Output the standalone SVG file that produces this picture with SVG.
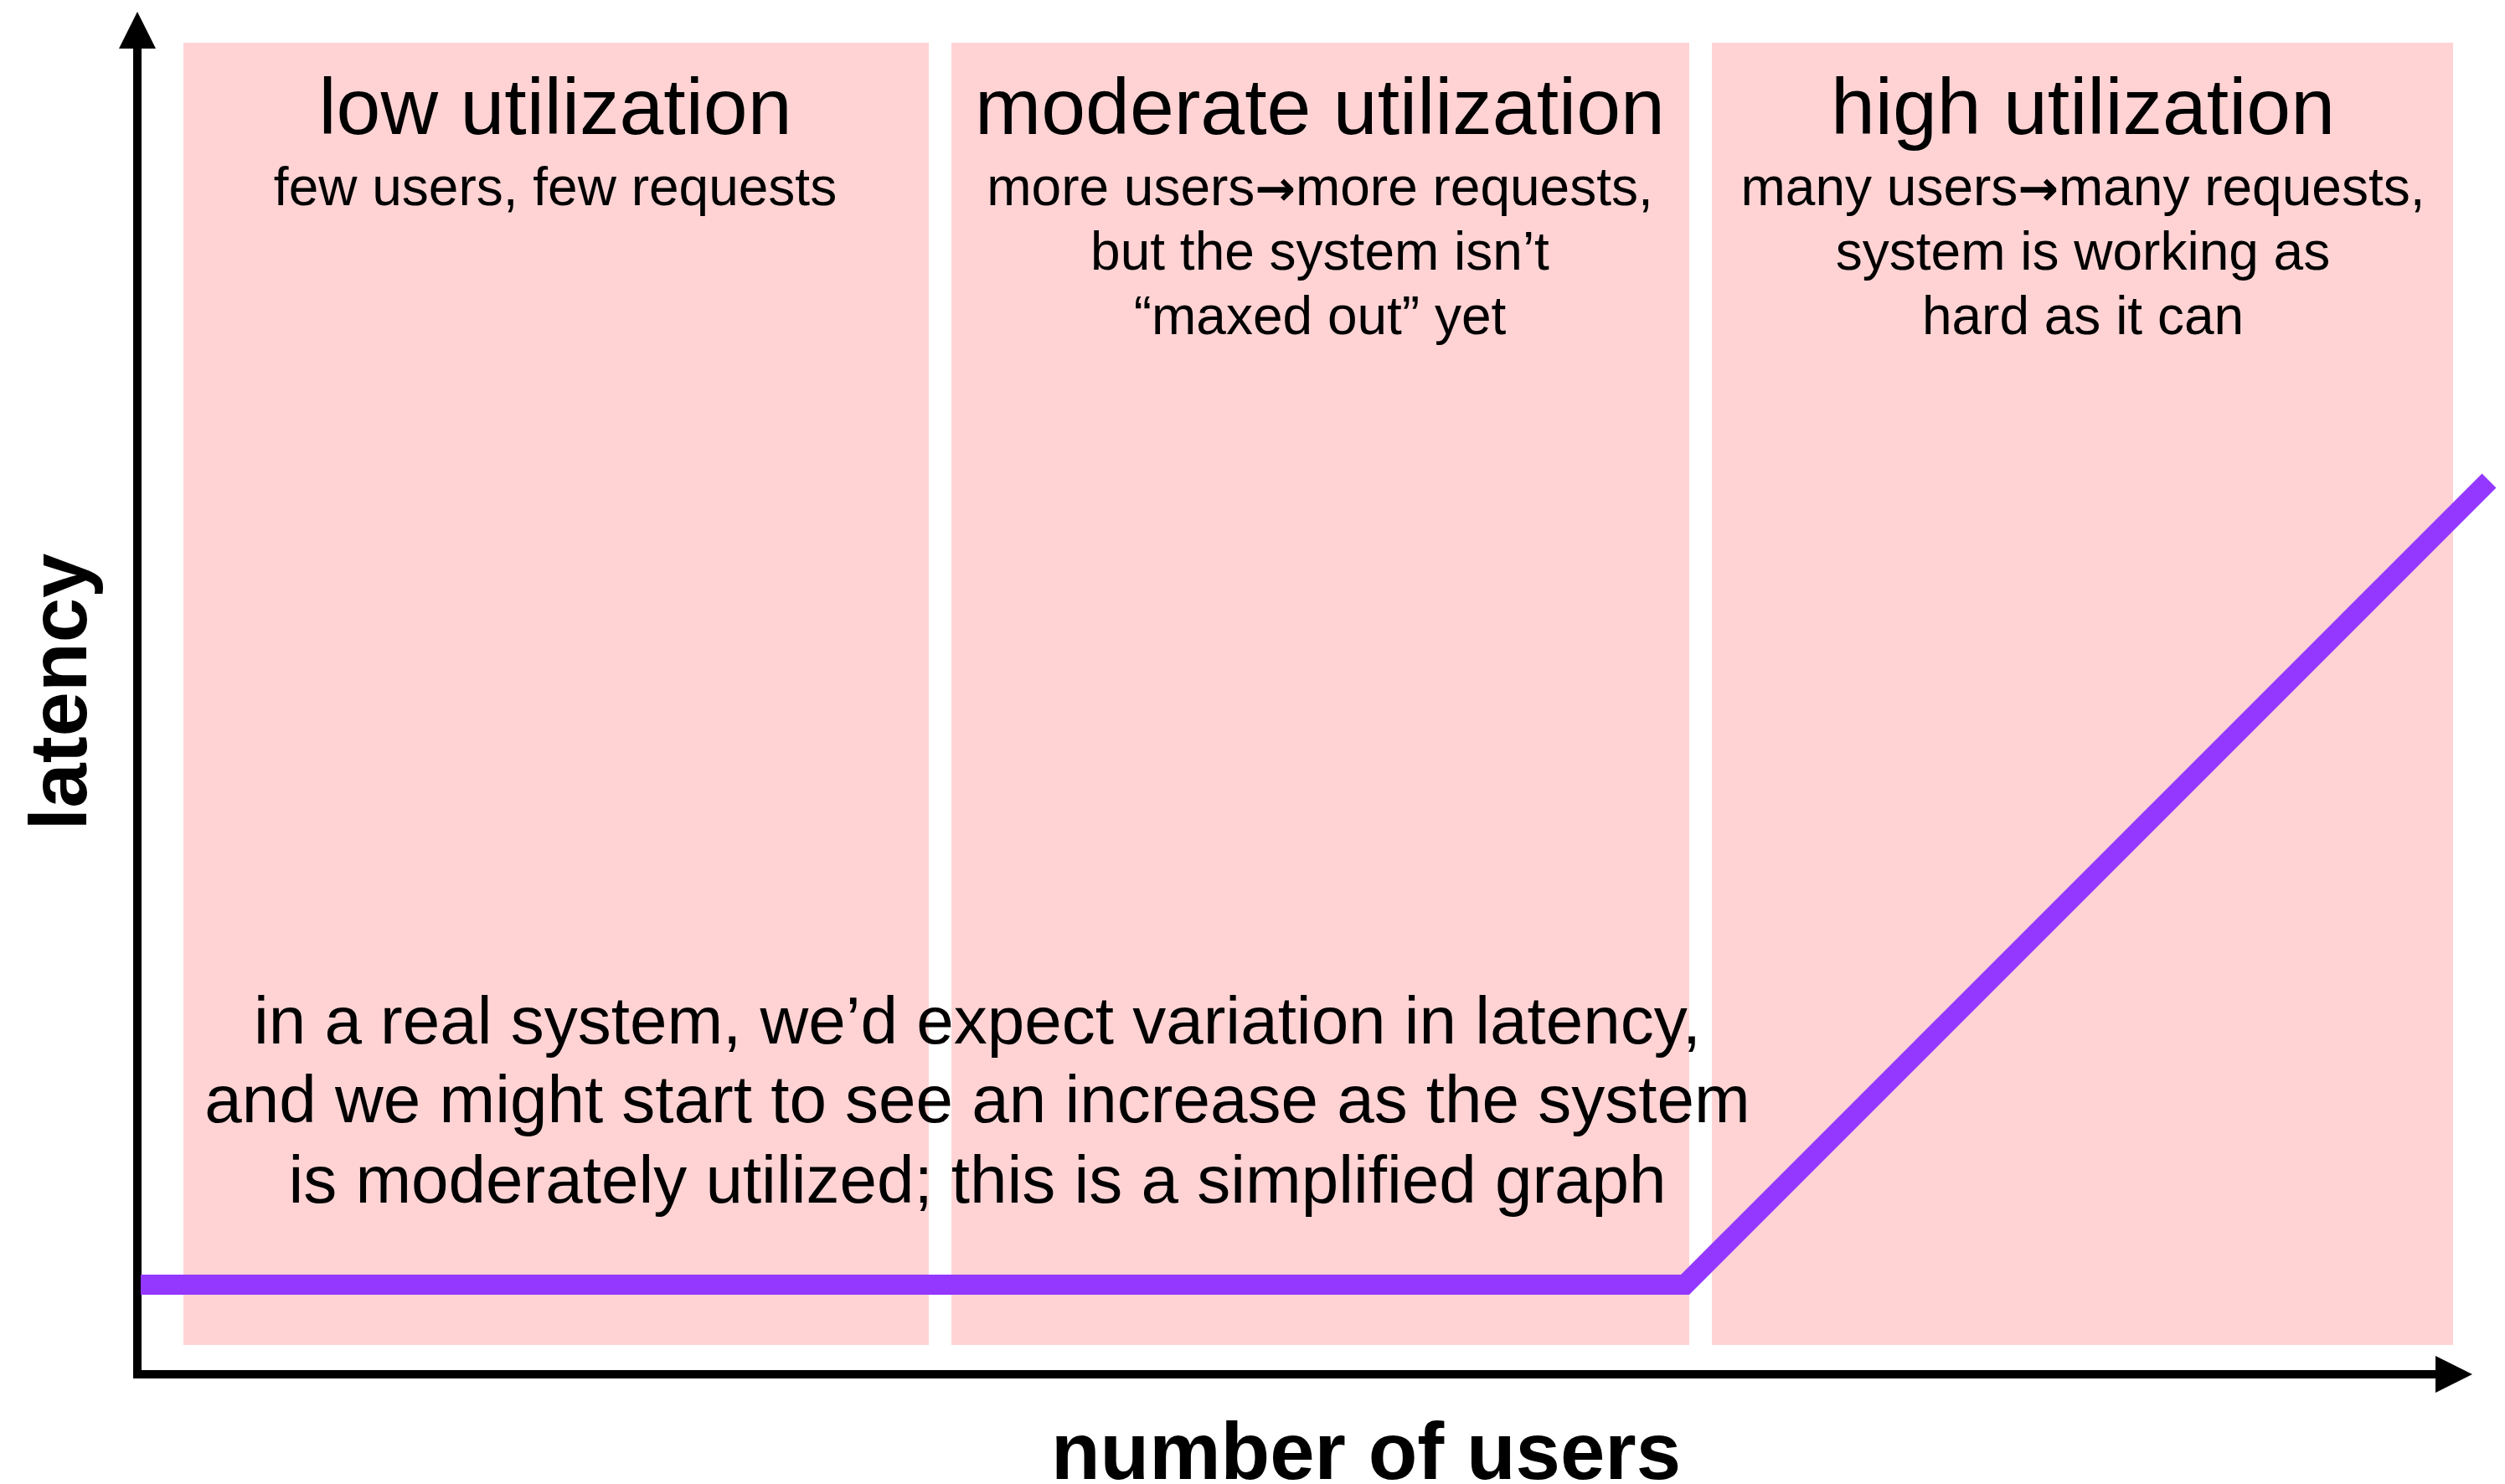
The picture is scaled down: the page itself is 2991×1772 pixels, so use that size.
<svg xmlns="http://www.w3.org/2000/svg" width="2991" height="1772" viewBox="0 0 2991 1772">
  <style>
    .zone { fill: #FFD3D4; }
    .title { font-family: "Liberation Sans", Arial, sans-serif; font-size: 95px; fill: #000; text-anchor: middle; }
    .sub { font-family: "Liberation Sans", Arial, sans-serif; font-size: 64px; fill: #000; text-anchor: middle; }
    .arr { font-family: "DejaVu Sans", sans-serif; font-weight: bold; font-size: 58px; }
    .note { font-family: "Liberation Sans", Arial, sans-serif; font-size: 80px; fill: #000; text-anchor: middle; }
    .axislabel { font-family: "Liberation Sans", Arial, sans-serif; font-size: 96px; font-weight: bold; fill: #000; text-anchor: middle; }
    .axis { stroke: #000; stroke-width: 10; fill: none; }
    .latency { stroke: #9437FF; stroke-width: 24; fill: none; stroke-linejoin: miter; stroke-linecap: butt; }
  </style>
  <defs>
    <marker id="arrow" markerUnits="userSpaceOnUse" markerWidth="44" markerHeight="44" refX="0" refY="22" orient="auto">
      <path d="M0,0 L44,22 L0,44 Z" fill="#000"/>
    </marker>
  </defs>
  <rect width="2991" height="1772" fill="#fff"/>

  <g id="low-utilization">
    <rect class="zone" x="219" y="51" width="890" height="1555"/>
    <text class="title" x="663" y="160">low utilization</text>
    <text class="sub" x="663" y="245">few users, few requests</text>
  </g>

  <g id="moderate-utilization">
    <rect class="zone" x="1136" y="51" width="881" height="1555"/>
    <text class="title" x="1576" y="160">moderate utilization</text>
    <text class="sub" x="1576" y="245">more users<tspan class="arr">→</tspan>more requests,</text>
    <text class="sub" x="1576" y="322">but the system isn’t</text>
    <text class="sub" x="1576" y="399">“maxed out” yet</text>
  </g>

  <g id="high-utilization">
    <rect class="zone" x="2044" y="51" width="885" height="1555"/>
    <text class="title" x="2487" y="160">high utilization</text>
    <text class="sub" x="2487" y="245">many users<tspan class="arr">→</tspan>many requests,</text>
    <text class="sub" x="2487" y="322">system is working as</text>
    <text class="sub" x="2487" y="399">hard as it can</text>
  </g>

  <g id="note">
    <text class="note" x="1167" y="1246">in a real system, we’d expect variation in latency,</text>
    <text class="note" x="1167" y="1340">and we might start to see an increase as the system</text>
    <text class="note" x="1167" y="1436">is moderately utilized; this is a simplified graph</text>
  </g>

  <g id="connectors">
    <line class="axis" x1="164" y1="1646" x2="164" y2="58" marker-end="url(#arrow)"/>
    <line class="axis" x1="159" y1="1641" x2="2908" y2="1641" marker-end="url(#arrow)"/>
    <polyline class="latency" points="168,1534 2012,1534 2972,574"/>
  </g>

  <g id="axis-labels">
    <text class="axislabel" x="1631" y="1766">number of users</text>
    <text class="axislabel" transform="translate(103,826) rotate(-90)" x="0" y="0">latency</text>
  </g>
</svg>
